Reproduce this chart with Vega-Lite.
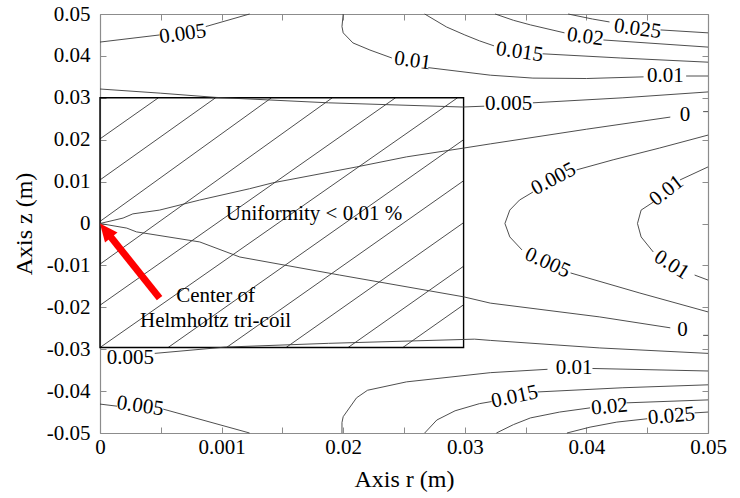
{
"$schema": "https://vega.github.io/schema/vega-lite/v6.json",
"width": 608, "height": 419,
"autosize": {"type": "none"},
"padding": {"left": 100, "top": 14, "right": 32, "bottom": 65},
"background": "white",
"config": {
  "font": "Liberation Serif",
  "view": {"stroke": null},
  "axis": {"labelFont": "Liberation Serif", "labelFontSize": 21, "labelColor": "#000", "titleFont": "Liberation Serif", "titleFontSize": 24, "titleFontWeight": "normal", "titleColor": "#000", "domainColor": "#8c8c8c", "domainWidth": 1.2, "tickColor": "#8c8c8c", "tickWidth": 1, "grid": false, "labelFlush": false, "labelOverlap": false},
  "text": {"font": "Liberation Serif"}
},
"datasets": {
  "hatch": [
    {"h":"t1","r":0,"z":0.0202},{"h":"t1","r":0.0048,"z":0.03},
    {"h":"t2","r":0,"z":0.0104},{"h":"t2","r":0.0095,"z":0.03},
    {"h":"t3","r":0,"z":0.0005},{"h":"t3","r":0.0141,"z":0.03},
    {"h":"t4","r":0,"z":-0.0097},{"h":"t4","r":0.0191,"z":0.03},
    {"h":"t5","r":0,"z":-0.0195},{"h":"t5","r":0.0243,"z":0.03},
    {"h":"t6","r":0,"z":-0.0296},{"h":"t6","r":0.0294,"z":0.03},
    {"h":"b1","r":0.0056,"z":-0.0296},{"h":"b1","r":0.0299,"z":0.0200},
    {"h":"b2","r":0.0104,"z":-0.0296},{"h":"b2","r":0.0299,"z":0.0102},
    {"h":"b3","r":0.0153,"z":-0.0296},{"h":"b3","r":0.0299,"z":0.0002},
    {"h":"b4","r":0.0204,"z":-0.0296},{"h":"b4","r":0.0299,"z":-0.0102},
    {"h":"b5","r":0.0249,"z":-0.0296},{"h":"b5","r":0.0299,"z":-0.0194}
  ],
  "box": [{"r":0,"r2":0.0299,"z":-0.0296,"z2":0.03}],
  "contours": [
    {"c":"1a","r":0,"z":0.0433},{"c":"1a","r":0.0049,"z":0.0450},
    {"c":"1b","r":0.0087,"z":0.0470},{"c":"1b","r":0.0123,"z":0.05},
    {"c":"2a","r":0.0200,"z":0.05},{"c":"2a","r":0.0199,"z":0.0470},{"c":"2a","r":0.0200,"z":0.0455},{"c":"2a","r":0.0208,"z":0.0431},{"c":"2a","r":0.0222,"z":0.0414},{"c":"2a","r":0.0240,"z":0.0395},
    {"c":"2b","r":0.0270,"z":0.0372},{"c":"2b","r":0.0321,"z":0.0354},{"c":"2b","r":0.0356,"z":0.0347},{"c":"2b","r":0.0400,"z":0.0346},{"c":"2b","r":0.0447,"z":0.0350},
    {"c":"2c","r":0.0482,"z":0.0352},{"c":"2c","r":0.05,"z":0.0352},
    {"c":"3a","r":0.0267,"z":0.05},{"c":"3a","r":0.0285,"z":0.0469},{"c":"3a","r":0.0300,"z":0.0450},{"c":"3a","r":0.0312,"z":0.0436},{"c":"3a","r":0.0324,"z":0.0424},
    {"c":"3b","r":0.0364,"z":0.0405},{"c":"3b","r":0.0428,"z":0.0395},{"c":"3b","r":0.05,"z":0.0385},
    {"c":"4a","r":0.0325,"z":0.05},{"c":"4a","r":0.0340,"z":0.0485},{"c":"4a","r":0.0354,"z":0.0474},{"c":"4a","r":0.0382,"z":0.0455},
    {"c":"4b","r":0.0414,"z":0.0438},{"c":"4b","r":0.05,"z":0.0421},
    {"c":"5a","r":0.0385,"z":0.05},{"c":"5a","r":0.0405,"z":0.0488},{"c":"5a","r":0.0419,"z":0.0481},
    {"c":"5b","r":0.0461,"z":0.0462},{"c":"5b","r":0.05,"z":0.0455},
    {"c":"6a","r":0,"z":0.0321},{"c":"6a","r":0.0050,"z":0.0311},{"c":"6a","r":0.0095,"z":0.0301},{"c":"6a","r":0.0188,"z":0.0288},{"c":"6a","r":0.0298,"z":0.0278},{"c":"6a","r":0.0316,"z":0.0280},
    {"c":"6b","r":0.0356,"z":0.0288},{"c":"6b","r":0.0430,"z":0.0300},{"c":"6b","r":0.05,"z":0.0314},
    {"c":"7a","r":0,"z":0},{"c":"7a","r":0.0019,"z":0.0013},{"c":"7a","r":0.0027,"z":0.0023},{"c":"7a","r":0.0049,"z":0.0032},{"c":"7a","r":0.0082,"z":0.0056},{"c":"7a","r":0.0123,"z":0.0083},{"c":"7a","r":0.0142,"z":0.0097},{"c":"7a","r":0.0211,"z":0.0135},{"c":"7a","r":0.0252,"z":0.0159},{"c":"7a","r":0.0299,"z":0.0180},{"c":"7a","r":0.0321,"z":0.0190},{"c":"7a","r":0.0400,"z":0.0225},{"c":"7a","r":0.0469,"z":0.0254},
    {"c":"7b","r":0.0496,"z":0.0267},{"c":"7b","r":0.05,"z":0.0267},
    {"c":"8a","r":0.05,"z":0.0211},{"c":"8a","r":0.0460,"z":0.0180},{"c":"8a","r":0.0422,"z":0.0152},{"c":"8a","r":0.0392,"z":0.0128},
    {"c":"8b","r":0.0356,"z":0.0075},{"c":"8b","r":0.0345,"z":0.0056},{"c":"8b","r":0.0337,"z":0.0032},{"c":"8b","r":0.0333,"z":0},{"c":"8b","r":0.0337,"z":-0.0032},{"c":"8b","r":0.0347,"z":-0.0063},
    {"c":"8c","r":0.0387,"z":-0.0118},{"c":"8c","r":0.0444,"z":-0.0166},{"c":"8c","r":0.05,"z":-0.0211},
    {"c":"9a","r":0.05,"z":0.0135},{"c":"9a","r":0.0477,"z":0.0104},
    {"c":"9b","r":0.0455,"z":0.0051},{"c":"9b","r":0.0445,"z":0.0032},{"c":"9b","r":0.0442,"z":0},{"c":"9b","r":0.0445,"z":-0.0032},{"c":"9b","r":0.0455,"z":-0.0068},
    {"c":"9c","r":0.0489,"z":-0.0123},{"c":"9c","r":0.05,"z":-0.0135},
    {"c":"10a","r":0,"z":0},{"c":"10a","r":0.0022,"z":-0.0011},{"c":"10a","r":0.0030,"z":-0.0020},{"c":"10a","r":0.0082,"z":-0.0044},{"c":"10a","r":0.0115,"z":-0.0080},{"c":"10a","r":0.0197,"z":-0.0123},{"c":"10a","r":0.0299,"z":-0.0175},{"c":"10a","r":0.0321,"z":-0.0190},{"c":"10a","r":0.0411,"z":-0.0223},{"c":"10a","r":0.0469,"z":-0.0249},
    {"c":"10b","r":0.0496,"z":-0.0267},{"c":"10b","r":0.05,"z":-0.0267},
    {"c":"11b","r":0.0045,"z":-0.0310},{"c":"11b","r":0.0103,"z":-0.0295},{"c":"11b","r":0.0188,"z":-0.0286},{"c":"11b","r":0.0308,"z":-0.0276},{"c":"11b","r":0.0321,"z":-0.0279},{"c":"11b","r":0.0411,"z":-0.0297},{"c":"11b","r":0.05,"z":-0.0310},
    {"c":"12a","r":0.0199,"z":-0.05},{"c":"12a","r":0.0199,"z":-0.0475},{"c":"12a","r":0.0200,"z":-0.0461},{"c":"12a","r":0.0211,"z":-0.0416},{"c":"12a","r":0.0220,"z":-0.0398},{"c":"12a","r":0.0252,"z":-0.0378},{"c":"12a","r":0.0321,"z":-0.0356},{"c":"12a","r":0.0368,"z":-0.0348},
    {"c":"12b","r":0.0405,"z":-0.0346},{"c":"12b","r":0.05,"z":-0.0352},
    {"c":"13a","r":0.0267,"z":-0.05},{"c":"13a","r":0.0277,"z":-0.0469},{"c":"13a","r":0.0292,"z":-0.0447},{"c":"13a","r":0.0312,"z":-0.0430},{"c":"13a","r":0.0322,"z":-0.0425},
    {"c":"13b","r":0.0360,"z":-0.0402},{"c":"13b","r":0.0430,"z":-0.0392},{"c":"13b","r":0.05,"z":-0.0385},
    {"c":"14a","r":0.0326,"z":-0.05},{"c":"14a","r":0.0340,"z":-0.0480},{"c":"14a","r":0.0354,"z":-0.0464},{"c":"14a","r":0.0378,"z":-0.0450},{"c":"14a","r":0.0403,"z":-0.0440},
    {"c":"14b","r":0.0433,"z":-0.0428},{"c":"14b","r":0.05,"z":-0.0421},
    {"c":"15a","r":0.0384,"z":-0.05},{"c":"15a","r":0.0403,"z":-0.0486},{"c":"15a","r":0.0425,"z":-0.0474},{"c":"15a","r":0.0450,"z":-0.0466},
    {"c":"15b","r":0.0489,"z":-0.0452},{"c":"15b","r":0.05,"z":-0.0450},
    {"c":"16a","r":0,"z":-0.0431},{"c":"16a","r":0.0014,"z":-0.0436},
    {"c":"16b","r":0.0052,"z":-0.0443},{"c":"16b","r":0.0123,"z":-0.05}
  ],
  "labels": [
    {"g":"h","t":"0.01","r":0.0465,"z":0.0352},
    {"g":"h","t":"0.005","r":0.0336,"z":0.0286},
    {"g":"h","t":"0","r":0.0481,"z":0.0260},
    {"g":"h","t":"0","r":0.0479,"z":-0.0253},
    {"g":"h","t":"0.005","r":0.0025,"z":-0.0322},
    {"g":"h","t":"0.01","r":0.0390,"z":-0.0346},
    {"g":"u8","t":"0.005","r":0.0068,"z":0.0452},
    {"g":"d8","t":"0.01","r":0.0257,"z":0.0388},
    {"g":"d8","t":"0.015","r":0.0345,"z":0.0409},
    {"g":"d8","t":"0.02","r":0.0399,"z":0.0445},
    {"g":"d8","t":"0.025","r":0.0442,"z":0.0464},
    {"g":"d8","t":"0.005","r":0.0033,"z":-0.0436},
    {"g":"a28","t":"0.005","r":0.0373,"z":0.0106},
    {"g":"a38","t":"0.01","r":0.0466,"z":0.0078},
    {"g":"b24","t":"0.005","r":0.0368,"z":-0.0094},
    {"g":"b32","t":"0.01","r":0.0470,"z":-0.0099},
    {"g":"u12","t":"0.015","r":0.0341,"z":-0.0414},
    {"g":"u5","t":"0.02","r":0.0419,"z":-0.0438},
    {"g":"u5","t":"0.025","r":0.0470,"z":-0.0460}
  ],
  "notes": [
    {"t":"Uniformity < 0.01 %","r":0.0176,"z":0.0008},
    {"t":"Center of","r":0.0095,"z":-0.0187},
    {"t":"Helmholtz tri-coil","r":0.0095,"z":-0.0247}
  ],
  "arrow": [{"r":0.0049,"z":-0.0178},{"r":0.0008,"z":-0.0029}],
  "tip": [{"r":0,"z":0}]
},
"layer": [
  {
    "data": {"name": "hatch"},
    "mark": {"type": "line", "color": "#3a3a3a", "strokeWidth": 0.9},
    "encoding": {
      "x": {"field": "r", "type": "quantitative", "scale": {"domain": [0, 0.05], "nice": false, "zero": false},
        "axis": {"orient": "bottom", "values": [0,0.005,0.01,0.015,0.02,0.025,0.03,0.035,0.04,0.045,0.05], "tickSize": -6, "labelPadding": 9, "labelFont": "Liberation Serif", "titleFont": "Liberation Serif",
          "labelExpr": "round(datum.value*200)%2==1 ? '' : (round(datum.value*200)==2 ? '0.001' : format(datum.value,'~g'))",
          "title": "Axis r (m)", "titlePadding": 10}},
      "y": {"field": "z", "type": "quantitative", "scale": {"domain": [-0.05, 0.05], "nice": false, "zero": false},
        "axis": {"orient": "left", "values": [-0.05,-0.04,-0.03,-0.02,-0.01,0,0.01,0.02,0.03,0.04,0.05], "tickSize": -6, "labelPadding": 16, "labelFont": "Liberation Serif", "titleFont": "Liberation Serif",
          "labelExpr": "datum.value==0 ? '0' : (datum.value<0 ? '-' : '') + format(abs(datum.value),'~g')",
          "title": "Axis z (m)", "titlePadding": 10}},
      "detail": {"field": "h"},
      "order": {"value": null}
    }
  },
  {
    "data": {"name": "box"},
    "mark": {"type": "rect", "fill": "transparent", "stroke": "#000", "strokeWidth": 1.4},
    "encoding": {
      "x": {"field": "r", "type": "quantitative", "scale": {"domain": [0, 0.05], "nice": false, "zero": false},
        "axis": {"orient": "top", "values": [0,0.005,0.01,0.015,0.02,0.025,0.03,0.035,0.04,0.045,0.05], "tickSize": -6, "labels": false, "title": null}},
      "x2": {"field": "r2"},
      "y": {"field": "z", "type": "quantitative", "scale": {"domain": [-0.05, 0.05], "nice": false, "zero": false},
        "axis": {"orient": "right", "values": [-0.05,-0.04,-0.03,-0.02,-0.01,0,0.01,0.02,0.03,0.04,0.05], "tickSize": -6, "labels": false, "title": null}},
      "y2": {"field": "z2"}
    }
  },
  {
    "data": {"name": "contours"},
    "mark": {"type": "line", "color": "#3a3a3a", "strokeWidth": 0.9},
    "encoding": {
      "x": {"field": "r", "type": "quantitative", "axis": null},
      "y": {"field": "z", "type": "quantitative", "axis": null},
      "detail": {"field": "c"},
      "order": {"value": null}
    }
  },
  {
    "data": {"name": "labels"},
    "transform": [{"filter": "datum.g == 'h'"}],
    "mark": {"type": "text", "font": "Liberation Serif", "fontSize": 21, "baseline": "middle", "align": "center", "color": "#000"},
    "encoding": {"x": {"field": "r", "type": "quantitative", "axis": null}, "y": {"field": "z", "type": "quantitative", "axis": null}, "text": {"field": "t"}}
  },
  {
    "data": {"name": "labels"},
    "transform": [{"filter": "datum.g == 'u8'"}],
    "mark": {"type": "text", "font": "Liberation Serif", "fontSize": 21, "baseline": "middle", "align": "center", "color": "#000", "angle": 352},
    "encoding": {"x": {"field": "r", "type": "quantitative", "axis": null}, "y": {"field": "z", "type": "quantitative", "axis": null}, "text": {"field": "t"}}
  },
  {
    "data": {"name": "labels"},
    "transform": [{"filter": "datum.g == 'd8'"}],
    "mark": {"type": "text", "font": "Liberation Serif", "fontSize": 21, "baseline": "middle", "align": "center", "color": "#000", "angle": 8},
    "encoding": {"x": {"field": "r", "type": "quantitative", "axis": null}, "y": {"field": "z", "type": "quantitative", "axis": null}, "text": {"field": "t"}}
  },
  {
    "data": {"name": "labels"},
    "transform": [{"filter": "datum.g == 'a28'"}],
    "mark": {"type": "text", "font": "Liberation Serif", "fontSize": 21, "baseline": "middle", "align": "center", "color": "#000", "angle": 332},
    "encoding": {"x": {"field": "r", "type": "quantitative", "axis": null}, "y": {"field": "z", "type": "quantitative", "axis": null}, "text": {"field": "t"}}
  },
  {
    "data": {"name": "labels"},
    "transform": [{"filter": "datum.g == 'a38'"}],
    "mark": {"type": "text", "font": "Liberation Serif", "fontSize": 21, "baseline": "middle", "align": "center", "color": "#000", "angle": 322},
    "encoding": {"x": {"field": "r", "type": "quantitative", "axis": null}, "y": {"field": "z", "type": "quantitative", "axis": null}, "text": {"field": "t"}}
  },
  {
    "data": {"name": "labels"},
    "transform": [{"filter": "datum.g == 'b24'"}],
    "mark": {"type": "text", "font": "Liberation Serif", "fontSize": 21, "baseline": "middle", "align": "center", "color": "#000", "angle": 24},
    "encoding": {"x": {"field": "r", "type": "quantitative", "axis": null}, "y": {"field": "z", "type": "quantitative", "axis": null}, "text": {"field": "t"}}
  },
  {
    "data": {"name": "labels"},
    "transform": [{"filter": "datum.g == 'b32'"}],
    "mark": {"type": "text", "font": "Liberation Serif", "fontSize": 21, "baseline": "middle", "align": "center", "color": "#000", "angle": 32},
    "encoding": {"x": {"field": "r", "type": "quantitative", "axis": null}, "y": {"field": "z", "type": "quantitative", "axis": null}, "text": {"field": "t"}}
  },
  {
    "data": {"name": "labels"},
    "transform": [{"filter": "datum.g == 'u12'"}],
    "mark": {"type": "text", "font": "Liberation Serif", "fontSize": 21, "baseline": "middle", "align": "center", "color": "#000", "angle": 348},
    "encoding": {"x": {"field": "r", "type": "quantitative", "axis": null}, "y": {"field": "z", "type": "quantitative", "axis": null}, "text": {"field": "t"}}
  },
  {
    "data": {"name": "labels"},
    "transform": [{"filter": "datum.g == 'u5'"}],
    "mark": {"type": "text", "font": "Liberation Serif", "fontSize": 21, "baseline": "middle", "align": "center", "color": "#000", "angle": 355},
    "encoding": {"x": {"field": "r", "type": "quantitative", "axis": null}, "y": {"field": "z", "type": "quantitative", "axis": null}, "text": {"field": "t"}}
  },
  {
    "data": {"name": "notes"},
    "mark": {"type": "text", "font": "Liberation Serif", "fontSize": 21, "baseline": "alphabetic", "align": "center", "color": "#000"},
    "encoding": {"x": {"field": "r", "type": "quantitative", "axis": null}, "y": {"field": "z", "type": "quantitative", "axis": null}, "text": {"field": "t"}}
  },
  {
    "data": {"name": "arrow"},
    "mark": {"type": "line", "color": "#ff0000", "strokeWidth": 7, "strokeCap": "butt"},
    "encoding": {"x": {"field": "r", "type": "quantitative", "axis": null}, "y": {"field": "z", "type": "quantitative", "axis": null}, "order": {"value": null}}
  },
  {
    "data": {"name": "tip"},
    "mark": {"type": "point", "shape": "M0,0L0.8,1.8L-0.8,1.8Z", "size": 400, "filled": true, "color": "#ff0000", "opacity": 1, "angle": 321.3},
    "encoding": {"x": {"field": "r", "type": "quantitative", "axis": null}, "y": {"field": "z", "type": "quantitative", "axis": null}}
  }
],
"resolve": {"axis": {"x": "independent", "y": "independent"}}
}
